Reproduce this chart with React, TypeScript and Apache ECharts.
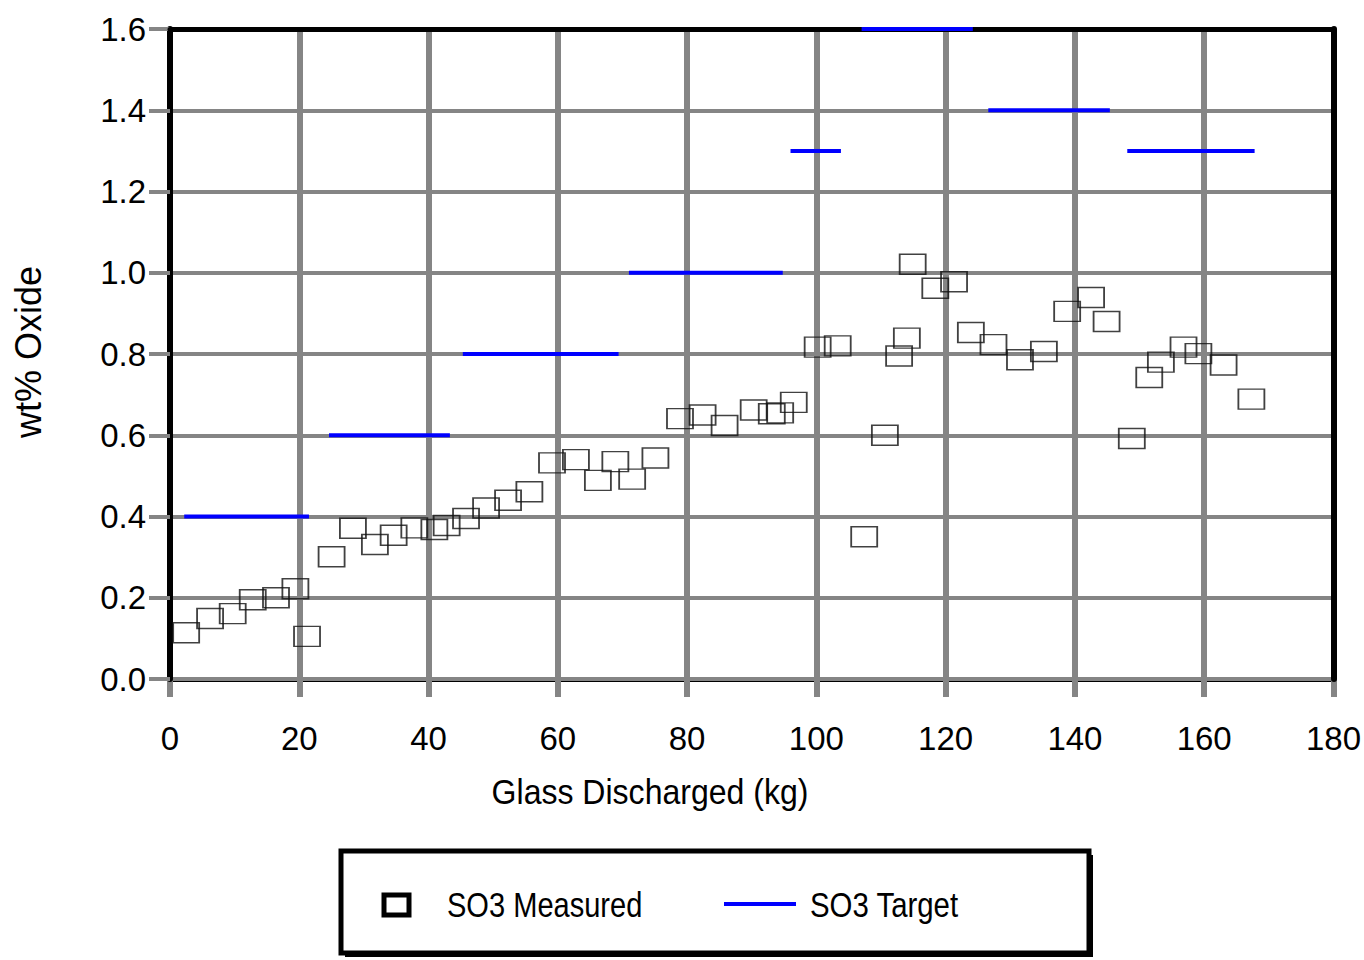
import React, { useEffect, useRef } from "react";
import * as echarts from "echarts";

// SO3 measured in discharged glass (kg discharged vs wt%)
const measuredKg = [
  2.5, 6.2, 9.7, 12.8, 16.4, 19.4, 21.2, 25.0, 28.3, 31.7, 34.6, 37.8, 40.9, 42.8,
  45.8, 48.9, 52.3, 55.6, 59.1, 62.8, 66.2, 68.9, 71.5, 75.1, 78.9, 82.4, 85.8,
  90.3, 93.1, 94.4, 96.5, 100.2, 103.3, 107.4, 110.6, 112.8, 114.0, 114.9, 118.4,
  121.3, 123.9, 127.4, 131.5, 135.2, 138.8, 142.5, 144.9, 148.8, 151.5, 153.3,
  156.8, 159.1, 163.0, 167.3,
];
const measuredWt = [
  0.114, 0.149, 0.161, 0.195, 0.2, 0.222, 0.105, 0.301, 0.371, 0.331, 0.354, 0.372,
  0.368, 0.378, 0.395, 0.421, 0.44, 0.461, 0.532, 0.54, 0.489, 0.535, 0.492, 0.544,
  0.641, 0.65, 0.624, 0.662, 0.653, 0.655, 0.681, 0.817, 0.82, 0.35, 0.6, 0.795,
  0.839, 1.021, 0.962, 0.978, 0.853, 0.823, 0.786, 0.806, 0.905, 0.939, 0.88,
  0.592, 0.742, 0.78, 0.817, 0.801, 0.773, 0.689,
];

// SO3 target levels, each held over a discharge interval
const targetLevel = [0.4, 0.6, 0.8, 1.0, 1.3, 1.6, 1.4, 1.3];
const targetStart = [2.2, 24.6, 45.3, 71.0, 96.0, 107.0, 126.6, 148.1];
const targetEnd = [21.5, 43.3, 69.4, 94.8, 103.8, 124.2, 145.4, 167.8];

// Axis ticks
const xTicks = { min: 0, max: 180, interval: 20 };
const yTicks = { min: 0, max: 1.6, interval: 0.2 };

const SANS = "'Liberation Sans', Arial, Helvetica, sans-serif";
const GRID_GRAY = "#858585";

export default function App() {
  const ref = useRef<HTMLDivElement>(null);

  useEffect(() => {
    if (!ref.current) return;
    const chart = echarts.init(ref.current, undefined, { renderer: "svg" });

    const measured = measuredKg.map((x, i) => [x, measuredWt[i]]);
    const targetSeries = targetLevel.map((lvl, i) => ({
      name: "SO3 Target",
      type: "line",
      data: [
        [targetStart[i], lvl],
        [targetEnd[i], lvl],
      ],
      showSymbol: false,
      symbol: "none",
      lineStyle: { color: "#0000ff", width: 4 },
      z: 4,
    }));

    // top and right edges of the plot frame
    const frameAxis = (width: number) => ({
      show: true,
      axisLine: { show: true, onZero: false, lineStyle: { color: "#000", width } },
      axisTick: { show: false },
      axisLabel: { show: false },
      splitLine: { show: false },
    });

    chart.setOption({
      animation: false,
      backgroundColor: "#fff",
      grid: { left: 170, right: 30, top: 29, bottom: 281, containLabel: false },
      xAxis: [
        {
          type: "value",
          min: xTicks.min,
          max: xTicks.max,
          interval: xTicks.interval,
          position: "bottom",
          axisLine: { show: true, onZero: false, lineStyle: { color: "#000", width: 5 } },
          axisTick: { show: true, inside: false, length: 18, lineStyle: { color: GRID_GRAY, width: 6 } },
          axisLabel: { color: "#000", fontFamily: SANS, fontSize: 33, margin: 43 },
          splitLine: { show: true, lineStyle: { color: GRID_GRAY, width: 6 } },
          z: 1,
        },
        {
          type: "value",
          min: xTicks.min,
          max: xTicks.max,
          interval: xTicks.interval,
          position: "top",
          ...frameAxis(5),
          z: 3,
        },
      ],
      yAxis: [
        {
          type: "value",
          min: yTicks.min,
          max: yTicks.max,
          interval: yTicks.interval,
          position: "left",
          axisLine: { show: true, onZero: false, lineStyle: { color: "#000", width: 6 } },
          axisTick: { show: true, inside: false, length: 21, lineStyle: { color: GRID_GRAY, width: 4 } },
          axisLabel: {
            color: "#000",
            fontFamily: SANS,
            fontSize: 33,
            margin: 24,
            formatter: (v: number) => v.toFixed(1),
          },
          splitLine: { show: true, lineStyle: { color: GRID_GRAY, width: 4 } },
          z: 2,
        },
        {
          type: "value",
          min: yTicks.min,
          max: yTicks.max,
          interval: yTicks.interval,
          position: "right",
          ...frameAxis(6),
          z: 3,
        },
      ],
      series: [
        {
          name: "SO3 Measured",
          type: "scatter",
          data: measured,
          symbol: "rect",
          symbolSize: [26, 20],
          itemStyle: { color: "rgba(0,0,0,0)", borderColor: "#111", borderWidth: 1.6 },
          z: 5,
        },
        ...targetSeries,
      ],
      graphic: [
        {
          type: "text",
          x: 650,
          y: 791,
          scaleX: 0.89,
          style: {
            text: "Glass Discharged (kg)",
            x: 0,
            y: 0,
            align: "center",
            verticalAlign: "middle",
            fontFamily: SANS,
            fontSize: 36,
            fill: "#000",
          },
        },
        {
          type: "text",
          x: 28,
          y: 352,
          rotation: Math.PI / 2,
          style: {
            text: "wt% Oxide",
            x: 0,
            y: 0,
            align: "center",
            verticalAlign: "middle",
            fontFamily: SANS,
            fontSize: 36,
            fill: "#000",
          },
        },
        // legend box with drop shadow
        {
          type: "rect",
          shape: { x: 345, y: 855, width: 748, height: 102 },
          style: { fill: "#000" },
        },
        {
          type: "rect",
          shape: { x: 341, y: 851, width: 748, height: 102 },
          style: { fill: "#fff", stroke: "#000", lineWidth: 5 },
        },
        {
          type: "rect",
          shape: { x: 384, y: 895, width: 25, height: 20 },
          style: { fill: "none", stroke: "#000", lineWidth: 5 },
        },
        {
          type: "text",
          x: 447,
          y: 905,
          scaleX: 0.83,
          style: {
            text: "SO3 Measured",
            x: 0,
            y: 0,
            verticalAlign: "middle",
            fontFamily: SANS,
            fontSize: 35,
            fill: "#000",
          },
        },
        {
          type: "line",
          shape: { x1: 724, y1: 904, x2: 796, y2: 904 },
          style: { stroke: "#0000ff", lineWidth: 4 },
        },
        {
          type: "text",
          x: 810,
          y: 905,
          scaleX: 0.84,
          style: {
            text: "SO3 Target",
            x: 0,
            y: 0,
            verticalAlign: "middle",
            fontFamily: SANS,
            fontSize: 35,
            fill: "#000",
          },
        },
      ],
    });

    return () => chart.dispose();
  }, []);

  return (
    <div
      ref={ref}
      style={{ position: "absolute", left: 0, top: 0, width: 1364, height: 960 }}
    />
  );
}
